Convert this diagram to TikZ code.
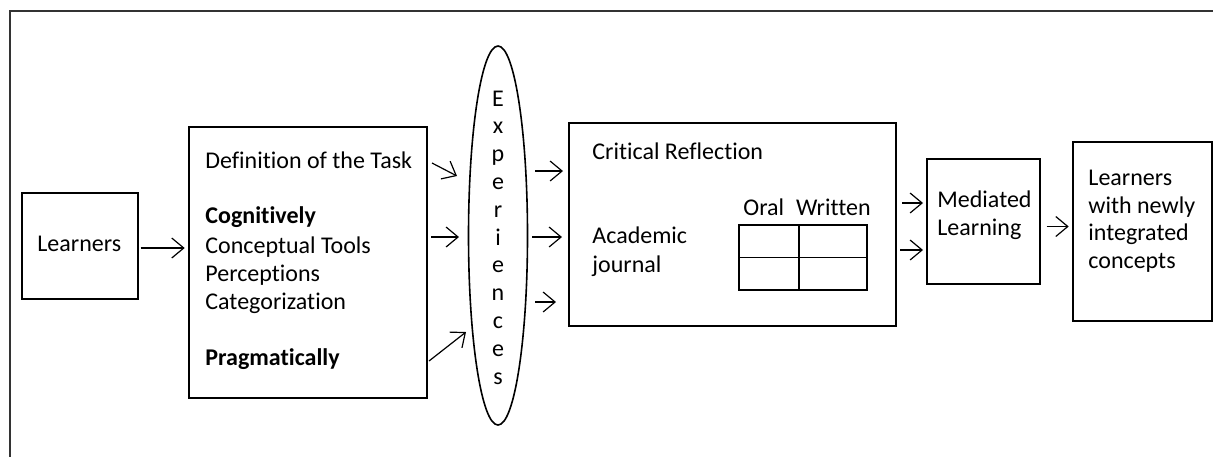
\documentclass[tikz,border=0pt]{standalone}
\usepackage{fontspec}
\setmainfont{Carlito}[Ligatures=CommonOff]
\usepackage{tikz}
\usetikzlibrary{arrows.meta,shapes.geometric}

\tikzset{
  box/.style={draw, line width=0.7pt, inner sep=0pt},
  txt/.style={anchor=base west, inner sep=0pt, font=\fontsize{12pt}{14pt}\selectfont},
  arr/.style={line width=0.6pt, -{Straight Barb[length=6pt,width=10pt,line width=0.6pt]}}
}

\begin{document}
\begin{tikzpicture}[x=0.5pt, y=-0.5pt]
  \useasboundingbox (0,0) rectangle (1213,457);
  \draw[line width=0.9pt, color=black!80] (1213,11) -- (10,11) -- (10,457);

  % boxes
  \node[box, minimum width=58pt, minimum height=53pt] (learners) at (80,246) {};
  \node[box, minimum width=119pt, minimum height=135.5pt] (task) at (308,262.5) {};
  \node[box, ellipse, line width=0.8pt, minimum width=29.5pt, minimum height=189.5pt] (exp) at (498,235.5) {};
  \node[box, minimum width=163.5pt, minimum height=101.5pt] (crit) at (732.5,224.5) {};
  \node[box, minimum width=56.5pt, minimum height=62.5pt] (med) at (983.5,221.5) {};
  \node[box, minimum width=69.5pt, minimum height=89.5pt] (final) at (1142.5,231.5) {};
  \node[box, minimum width=64pt, minimum height=32.5pt] (tab) at (803,257.5) {};
  \draw[line width=0.7pt] (tab.west) -- (tab.east) ([xshift=-2]tab.north) -- ([xshift=-2]tab.south);

  % texts
  \node[txt] (tl) at (37,251) {Learners};
  \node[txt] (t1) at (205,168) {Definition of the Task};
  \node[txt] (t2) at (205,223) {\bfseries Cognitively};
  \node[txt] (t3) at (205,253) {Conceptual Tools};
  \node[txt] (t4) at (205,281) {Perceptions};
  \node[txt] (t5) at (205,309) {Categorization};
  \node[txt] (t6) at (205,365) {\bfseries Pragmatically};
  \foreach \l [count=\i] in {E,x,p,e,r,i,e,n,c,e,s}
    \node[txt, anchor=base] (e\i) at (498,{106+27.8*(\i-1)}) {\l};
  \node[txt] (c1) at (592,159) {Critical Reflection};
  \node[txt] (c2) at (592,243) {Academic};
  \node[txt] (c3) at (592,272) {journal};
  \node[txt] (oral) at (743,215) {Oral};
  \node[txt, anchor=base east] (written) at (871,215) {Written};
  \node[txt] (m1) at (937,207) {Mediated};
  \node[txt] (m2) at (937,235) {Learning};
  \node[txt] (f1) at (1088,185) {Learners};
  \node[txt] (f2) at (1088,213) {with newly};
  \node[txt] (f3) at (1088,240) {integrated};
  \node[txt] (f4) at (1088,268) {concepts};

  % arrow ends
  \coordinate (a1) at (432,163); \coordinate (b1) at (457,176);
  \coordinate (a2) at (431,237); \coordinate (b2) at (459,237);
  \coordinate (a3) at (429,361); \coordinate (b3) at (466,332);
  \coordinate (a4) at (535,171); \coordinate (b4) at (563,171);
  \coordinate (a5) at (532,237); \coordinate (b5) at (562,237);
  \coordinate (a6) at (535,302); \coordinate (b6) at (556,302);
  \coordinate (a7) at (902,203); \coordinate (b7) at (923,203);
  \coordinate (a8) at (900,250); \coordinate (b8) at (923,250);

  \draw[arr] (learners.east) ++(2,2) -- ++(44,0);
  \foreach \i in {1,...,8}
    \draw[arr] (a\i) -- (b\i);
  \draw[arr] (med.east) ++(6,5) -- ++(22,0);
\end{tikzpicture}
\end{document}
